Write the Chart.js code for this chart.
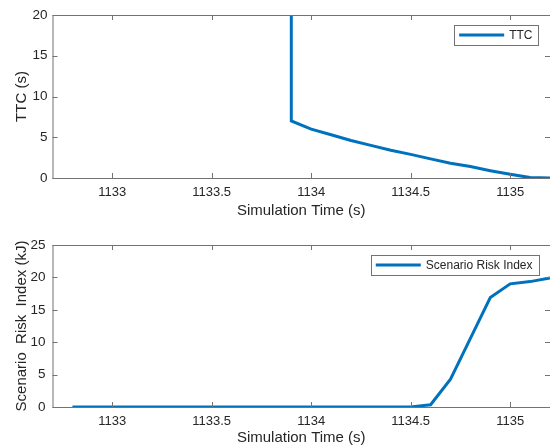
<!DOCTYPE html>
<html>
<head>
<meta charset="utf-8">
<script src="https://cdn.jsdelivr.net/npm/chart.js@4.4.1/dist/chart.umd.min.js"></script>
<style>
  html, body { margin: 0; padding: 0; background: #fff; }
  #wrap { position: relative; width: 550px; height: 445px; overflow: hidden; }
  .panel { position: absolute; left: 0; width: 550px; }
  #top { top: 0; height: 222px; }
  #bottom { top: 222px; height: 223px; }
</style>
</head>
<body>
<div id="wrap">
  <div class="panel" id="top"><canvas id="ttcCanvas"></canvas></div>
  <div class="panel" id="bottom"><canvas id="riskCanvas"></canvas></div>
</div>
<script>
// values
const ttcTime   = [1133.9, 1133.9, 1134.0, 1134.1, 1134.2, 1134.3, 1134.4, 1134.5, 1134.6, 1134.7, 1134.8, 1134.9, 1135.0, 1135.1, 1135.2];
const ttcValues = [60,     7.0,    6.0,    5.3,    4.6,    4.0,    3.4,    2.9,    2.35,   1.8,    1.4,    0.9,    0.45,   0.05,   0.0];

const riskTime   = [1132.8, 1132.9, 1133.0, 1133.1, 1133.2, 1133.3, 1133.4, 1133.5, 1133.6, 1133.7, 1133.8, 1133.9,
                    1134.0, 1134.1, 1134.2, 1134.3, 1134.4, 1134.5, 1134.6, 1134.7, 1134.8, 1134.9, 1135.0, 1135.1, 1135.2];
const riskValues = [0, 0, 0, 0, 0, 0, 0, 0, 0, 0, 0, 0,
                    0, 0, 0, 0, 0, 0, 0.35, 4.3, 10.6, 16.9, 19.0, 19.35, 19.9];

const timeTicks = [1133, 1133.5, 1134, 1134.5, 1135];
const ttcTicks  = [0, 5, 10, 15, 20];
const riskTicks = [0, 5, 10, 15, 20, 25];

const FONT = "'Liberation Sans', Arial, sans-serif";
const TEXT = '#262626';
const AXIS = '#737373';
const BLUE = '#0072BD';

// matlab style box with inward ticks + legend in the upper right
const boxPlugin = {
  id: 'matlabBox',
  afterDatasetsDraw(chart) {
    const ctx = chart.ctx;
    const a = chart.chartArea;
    const xs = chart.scales.x, ys = chart.scales.y;
    const tl = 5;
    ctx.save();
    ctx.strokeStyle = AXIS;
    ctx.lineWidth = 1;
    ctx.strokeRect(a.left + 0.5, a.top + 0.5, a.right - a.left, a.bottom - a.top);
    ctx.beginPath();
    xs.ticks.forEach(t => {
      const px = Math.round(xs.getPixelForValue(t.value)) + 0.5;
      ctx.moveTo(px, a.bottom); ctx.lineTo(px, a.bottom - tl);
      ctx.moveTo(px, a.top); ctx.lineTo(px, a.top + tl);
    });
    ys.ticks.forEach(t => {
      const py = Math.round(ys.getPixelForValue(t.value)) + 0.5;
      ctx.moveTo(a.left, py); ctx.lineTo(a.left + tl, py);
      ctx.moveTo(a.right, py); ctx.lineTo(a.right - tl, py);
    });
    ctx.stroke();

    // legend
    const ds = chart.data.datasets[0];
    ctx.font = '12px ' + FONT;
    const tw = ctx.measureText(ds.label).width;
    const w = 5 + 45 + 5 + tw + 6, h = 20;
    const right = a.right - 11.5, top = a.top + 9.5;
    const left = right - w;
    ctx.fillStyle = '#fff';
    ctx.fillRect(left, top, w, h);
    ctx.strokeStyle = AXIS;
    ctx.strokeRect(Math.round(left) + 0.5, Math.round(top) + 0.5, Math.round(w), h);
    ctx.strokeStyle = ds.borderColor;
    ctx.lineWidth = 3;
    ctx.beginPath();
    ctx.moveTo(left + 5, top + h / 2 + 0.5);
    ctx.lineTo(left + 50, top + h / 2 + 0.5);
    ctx.stroke();
    ctx.fillStyle = TEXT;
    ctx.textBaseline = 'middle';
    ctx.fillText(ds.label, left + 55, top + h / 2 + 1);
    ctx.restore();
  }
};

function makeChart(canvasId, times, values, label, yMax, yTicks, yTitle, opts) {
  const points = times.map((t, i) => ({ x: t, y: values[i] }));
  return new Chart(document.getElementById(canvasId), {
    type: 'line',
    data: {
      datasets: [{
        label: label,
        data: points,
        borderColor: BLUE,
        borderWidth: 3,
        pointRadius: 0,
        tension: 0,
        fill: false
      }]
    },
    options: {
      responsive: true,
      maintainAspectRatio: false,
      animation: false,
      events: [],
      layout: { padding: { top: opts.top, left: 0, right: 0, bottom: 0 } },
      plugins: { legend: { display: false }, tooltip: { enabled: false } },
      scales: {
        x: {
          type: 'linear',
          min: 1132.7,
          max: 1135.2,
          afterFit: s => { s.height = opts.xHeight; },
          afterBuildTicks: s => { s.ticks = timeTicks.map(v => ({ value: v })); },
          grid: { display: false, drawTicks: false },
          border: { display: false },
          ticks: {
            padding: 7,
            color: TEXT,
            font: { family: FONT, size: 13 },
            callback: v => String(v)
          },
          title: {
            display: true,
            text: 'Simulation Time (s)',
            color: TEXT,
            font: { family: FONT, size: 15, lineHeight: 1 },
            padding: { top: 0, bottom: opts.xTitlePad }
          }
        },
        y: {
          min: 0,
          max: yMax,
          afterFit: s => { s.width = 52.5; },
          afterBuildTicks: s => { s.ticks = yTicks.map(v => ({ value: v })); },
          grid: { display: false, drawTicks: false },
          border: { display: false },
          ticks: {
            padding: opts.yPad,
            color: TEXT,
            font: { family: FONT, size: 13.5 }
          },
          title: {
            display: true,
            text: yTitle,
            color: TEXT,
            font: { family: FONT, size: 15, lineHeight: 1 },
            padding: { top: 14, bottom: 0 }
          }
        }
      }
    },
    plugins: [boxPlugin]
  });
}

makeChart('ttcCanvas', ttcTime, ttcValues, 'TTC', 20, ttcTicks, 'TTC (s)',
  { top: 15, xHeight: 44, xTitlePad: 3.5, yPad: 5 });
makeChart('riskCanvas', riskTime, riskValues, 'Scenario Risk Index', 25, riskTicks, 'Scenario  Risk  Index (kJ)',
  { top: 23, xHeight: 38, xTitlePad: 0, yPad: 7 });
</script>
</body>
</html>
